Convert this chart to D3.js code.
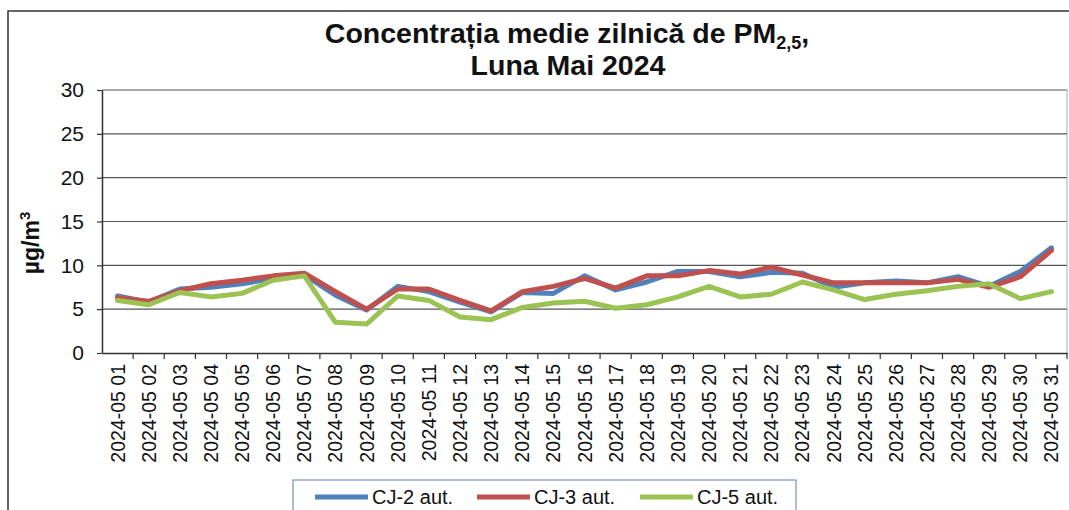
<!DOCTYPE html>
<html>
<head>
<meta charset="utf-8">
<script src="https://cdn.jsdelivr.net/npm/d3@7"></script>
<style>
  html, body { margin: 0; padding: 0; background: #fff; }
  svg { display: block; font-family: "Liberation Sans", Arial, sans-serif; }
</style>
</head>
<body>
<svg id="chart" width="1069" height="510"></svg>
<script>
const days = ["2024-05 01","2024-05 02","2024-05 03","2024-05 04","2024-05 05","2024-05 06","2024-05 07","2024-05 08","2024-05 09","2024-05 10","2024-05 11","2024-05 12","2024-05 13","2024-05 14","2024-05 15","2024-05 16","2024-05 17","2024-05 18","2024-05 19","2024-05 20","2024-05 21","2024-05 22","2024-05 23","2024-05 24","2024-05 25","2024-05 26","2024-05 27","2024-05 28","2024-05 29","2024-05 30","2024-05 31"];
const cj2 = [6.5, 5.8, 7.3, 7.5, 7.9, 8.5, 8.9, 6.6, 4.9, 7.6, 7.0, 5.8, 4.7, 6.9, 6.8, 8.8, 7.2, 8.1, 9.3, 9.3, 8.7, 9.2, 9.1, 7.5, 8.0, 8.2, 8.0, 8.7, 7.6, 9.3, 12.0];
const cj3 = [6.3, 5.9, 7.1, 7.9, 8.3, 8.8, 9.1, 7.0, 5.0, 7.3, 7.3, 6.0, 4.8, 7.0, 7.6, 8.5, 7.4, 8.8, 8.8, 9.4, 9.0, 9.8, 8.9, 8.0, 8.0, 8.0, 8.0, 8.4, 7.5, 8.7, 11.7];
const cj5 = [6.0, 5.5, 6.9, 6.4, 6.8, 8.3, 8.8, 3.5, 3.3, 6.5, 6.0, 4.1, 3.8, 5.2, 5.7, 5.9, 5.1, 5.5, 6.4, 7.6, 6.4, 6.7, 8.1, 7.2, 6.1, 6.7, 7.1, 7.6, 7.9, 6.2, 7.0];
const seriesNames = ["CJ-2 aut.", "CJ-3 aut.", "CJ-5 aut."];
const seriesColors = ["#4f81bd", "#c0504d", "#9bc353"];
const yTicks = [0, 5, 10, 15, 20, 25, 30];

const svg = d3.select("#chart");
const L = 102, R = 1067, T = 90, B = 353;

// outer chart border
svg.append("path").attr("d", "M8,515 L8,11 L1075,11")
  .attr("fill", "none").attr("stroke", "#333").attr("stroke-width", 1.5);

const x = d3.scaleBand().domain(days).range([L, R]).padding(0);
const y = d3.scaleLinear().domain([0, 30]).range([B, T]);
const cx = d => x(d) + x.bandwidth() / 2;

// gridlines
svg.append("g").selectAll("line").data(yTicks.filter(v => v > 0)).join("line")
  .attr("x1", L).attr("x2", R).attr("y1", d => y(d)).attr("y2", d => y(d))
  .attr("stroke", "#555").attr("stroke-width", 1.2);

// plot area right border
svg.append("line").attr("x1", R).attr("x2", R).attr("y1", T).attr("y2", B)
  .attr("stroke", "#aaa").attr("stroke-width", 1);

// y axis
const yAxis = svg.append("g").attr("transform", `translate(${L},0)`)
  .call(d3.axisLeft(y).tickValues(yTicks).tickSize(5).tickPadding(13).tickSizeOuter(0));
yAxis.select(".domain").attr("stroke", "#333").attr("stroke-width", 1.5);
yAxis.selectAll(".tick line").attr("stroke", "#333").attr("stroke-width", 1.2);
yAxis.selectAll("text").attr("font-size", 21).attr("fill", "#111")
  .attr("font-family", "'Liberation Sans', Arial, sans-serif");

// x axis
const xAxis = svg.append("g").attr("transform", `translate(0,${B})`)
  .call(d3.axisBottom(x).tickSize(0).tickSizeOuter(0).tickPadding(0));
xAxis.select(".domain").attr("stroke", "#333").attr("stroke-width", 1.5);
xAxis.selectAll(".tick text")
  .attr("font-size", 19.5).attr("fill", "#111")
  .attr("font-family", "'Liberation Sans', Arial, sans-serif")
  .attr("text-anchor", "end")
  .attr("transform", "translate(0,11) rotate(-90)")
  .attr("x", 0).attr("y", 0).attr("dy", "0.36em");
// x tick marks at category boundaries
const bounds = days.map(d => x(d)).concat([R]).slice(1);
svg.append("g").selectAll("line").data(bounds).join("line")
  .attr("x1", d => d).attr("x2", d => d).attr("y1", B).attr("y2", B + 6)
  .attr("stroke", "#333").attr("stroke-width", 1.2);

// lines
const line = d3.line().x((v, i) => cx(days[i])).y(v => y(v));
[cj2, cj3, cj5].forEach((s, k) => {
  svg.append("path").datum(s).attr("d", line)
    .attr("fill", "none").attr("stroke", seriesColors[k])
    .attr("stroke-width", 5).attr("stroke-linejoin", "round").attr("stroke-linecap", "round");
});

// title
const title = svg.append("text").attr("x", 567).attr("y", 43)
  .attr("text-anchor", "middle").attr("font-weight", "bold").attr("font-size", 28.5).attr("fill", "#111");
title.append("tspan").text("Concentrația medie zilnică de PM");
title.append("tspan").attr("font-size", 18).attr("dy", 6).text("2,5");
title.append("tspan").attr("dy", -6).text(",");
svg.append("text").attr("x", 568).attr("y", 75)
  .attr("text-anchor", "middle").attr("font-weight", "bold").attr("font-size", 28.5).attr("fill", "#111")
  .text("Luna Mai 2024");

// y label
const yl = svg.append("text").attr("transform", "translate(39,243) rotate(-90)")
  .attr("text-anchor", "middle").attr("font-weight", "bold").attr("font-size", 23).attr("fill", "#111");
yl.append("tspan").text("µg/m");
yl.append("tspan").attr("font-size", 15).attr("dy", -9).text("3");

// legend
svg.append("rect").attr("x", 293).attr("y", 480).attr("width", 503).attr("height", 50)
  .attr("fill", "#fff").attr("stroke", "#8ea6c8").attr("stroke-width", 1.5);
const legX = [315, 477, 640];
seriesNames.forEach((n, k) => {
  svg.append("line").attr("x1", legX[k]).attr("x2", legX[k] + 53).attr("y1", 497).attr("y2", 497)
    .attr("stroke", seriesColors[k]).attr("stroke-width", 5);
  svg.append("text").attr("x", legX[k] + 57).attr("y", 504).attr("font-size", 20).attr("fill", "#111").text(n);
});
</script>
</body>
</html>
